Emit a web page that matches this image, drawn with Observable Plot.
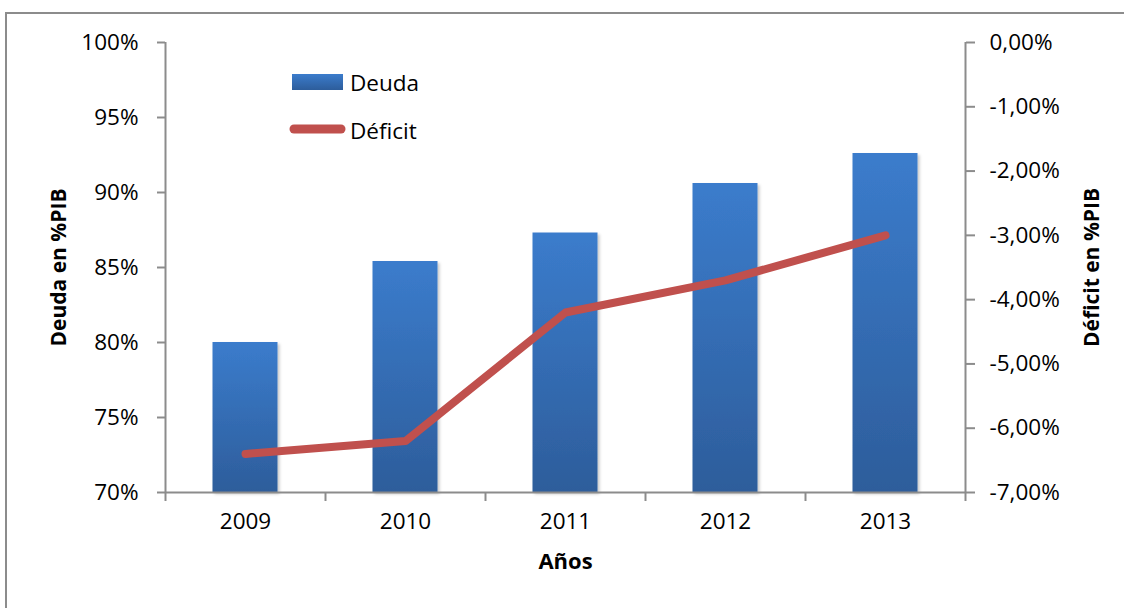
<!DOCTYPE html>
<html>
<head>
<meta charset="utf-8">
<script src="https://cdn.jsdelivr.net/npm/d3@7"></script>
<script src="https://cdn.jsdelivr.net/npm/@observablehq/plot@0.6"></script>
<style>
  html, body { margin: 0; padding: 0; background: #fff; }
  #wrap { position: relative; width: 1124px; height: 608px; overflow: hidden; font-family: "Open Sans", sans-serif; }
  #border { position: absolute; left: 5px; top: 12px; width: 1200px; height: 700px; border: 2px solid #8c8c8c; box-sizing: border-box; pointer-events: none; }
  #chart { position: absolute; left: 0; top: 0; }
  #legend { position: absolute; left: 285px; top: 62px; }
</style>
</head>
<body>
<div id="wrap">
  <div id="border"></div>
  <div id="chart"></div>
  <svg id="legend" width="200" height="90"></svg>
</div>
<script>
const years = ["2009", "2010", "2011", "2012", "2013"];
const deuda = [80.0, 85.4, 87.3, 90.6, 92.6];      // % PIB (left axis)
const deficit = [-6.4, -6.2, -4.2, -3.7, -3.0];    // % PIB (right axis)
const leftTicks = [70, 75, 80, 85, 90, 95, 100];
const rightTicks = [0, -1, -2, -3, -4, -5, -6, -7];
const seriesNames = ["Deuda", "Déficit"];
const xTitle = "Años";
const yLeftTitle = "Deuda en %PIB";
const yRightTitle = "Déficit en %PIB";

const toY = d => 100 + d * 30 / 7;      // map deficit to left scale
const fromY = v => (v - 100) * 7 / 30;

const barData = years.map((y, i) => ({year: y, value: deuda[i]}));
const lineData = years.map((y, i) => ({year: y, value: toY(deficit[i])}));

const fmtRight = v => {
  const d = Math.round(fromY(v) * 100) / 100;
  return (Math.abs(d) < 1e-9 ? 0 : d).toFixed(2).replace(".", ",") + "%";
};

const axisColor = "#8c8c8c";
const font = "\"Open Sans\", sans-serif";

const defs = () => {
  const g = d3.create("svg:defs");
  const lg = g.append("linearGradient").attr("id", "barGrad").attr("x1", 0).attr("y1", 0).attr("x2", 0).attr("y2", 1);
  lg.append("stop").attr("offset", "0%").attr("stop-color", "#3b7ccc");
  lg.append("stop").attr("offset", "100%").attr("stop-color", "#2d5d9b");
  const f = g.append("filter").attr("id", "shadow").attr("x", "-20%").attr("y", "-5%").attr("width", "140%").attr("height", "115%");
  f.append("feDropShadow").attr("dx", 2).attr("dy", 2).attr("stdDeviation", 1.8).attr("flood-color", "#000").attr("flood-opacity", 0.22);
  return g.node();
};

const chart = Plot.plot({
  width: 1124,
  height: 608,
  marginTop: 42,
  marginBottom: 116,
  marginLeft: 165,
  marginRight: 159,
  style: {fontFamily: font, fontSize: "22.5px", color: "black", background: "transparent"},
  x: {type: "band", domain: years, padding: 0},
  y: {domain: [70, 100]},
  marks: [
    defs,
    Plot.barY(barData, {x: "year", y1: 70, y2: "value", fill: "url(#barGrad)", insetLeft: 47.5, insetRight: 47.5}),
    Plot.ruleY([70], {stroke: axisColor, strokeWidth: 2}),
    Plot.ruleX([years[0]], {x: d => d, dx: -80, y1: 70, y2: 100, stroke: axisColor, strokeWidth: 2}),
    Plot.ruleX([years[4]], {x: d => d, dx: 80, y1: 70, y2: 100, stroke: axisColor, strokeWidth: 2}),
    Plot.ruleX(years, {x: d => d, dx: -80, y1: 70, y2: 70, insetBottom: -9, stroke: axisColor, strokeWidth: 2}),
    Plot.ruleX([years[4]], {x: d => d, dx: 80, y1: 70, y2: 70, insetBottom: -9, stroke: axisColor, strokeWidth: 2}),
    Plot.axisY({anchor: "left", ticks: leftTicks, tickFormat: d => d + "%", tickSize: 8, tickPadding: 19, stroke: axisColor, strokeWidth: 2, fill: "black", label: null}),
    Plot.axisY({anchor: "right", ticks: rightTicks.map(toY), tickFormat: fmtRight, tickSize: 9, tickPadding: 15, stroke: axisColor, strokeWidth: 2, fill: "black", label: null}),
    Plot.axisX({anchor: "bottom", tickSize: 0, tickPadding: 21, fill: "black", label: null}),
    Plot.line(lineData, {x: "year", y: "value", stroke: "#c0504d", strokeWidth: 8, strokeLinecap: "round", strokeLinejoin: "round"}),
    Plot.text([yLeftTitle], {frameAnchor: "left", textAnchor: "middle", dx: -106, rotate: -90, fontWeight: "bold", fontSize: 21, fill: "black"}),
    Plot.text([yRightTitle], {frameAnchor: "right", textAnchor: "middle", dx: 127, rotate: -90, fontWeight: "bold", fontSize: 21, fill: "black"}),
    Plot.text([xTitle], {frameAnchor: "bottom", dy: 76, fontWeight: "bold", fontSize: 22, fill: "black"})
  ]
});
chart.querySelectorAll("rect").forEach(r => { if (r.getAttribute("fill") === "url(#barGrad)" || (r.parentNode && r.parentNode.getAttribute("fill") === "url(#barGrad)")) r.setAttribute("filter", "url(#shadow)"); });
document.getElementById("chart").appendChild(chart);

// legend
const lg = d3.select("#legend");
lg.append("defs").append("linearGradient").attr("id", "legGrad").attr("x1", 0).attr("y1", 0).attr("x2", 0).attr("y2", 1)
  .call(s => { s.append("stop").attr("offset", "0%").attr("stop-color", "#3b7ccc"); s.append("stop").attr("offset", "100%").attr("stop-color", "#2d5d9b"); });
lg.append("rect").attr("x", 7).attr("y", 12).attr("width", 51).attr("height", 16).attr("fill", "url(#legGrad)");
lg.append("text").attr("x", 65).attr("y", 20).attr("dominant-baseline", "central").attr("font-family", font).attr("font-size", 22.5).text(seriesNames[0]);
lg.append("line").attr("x1", 9).attr("x2", 56).attr("y1", 67).attr("y2", 67).attr("stroke", "#c0504d").attr("stroke-width", 9).attr("stroke-linecap", "round");
lg.append("text").attr("x", 65).attr("y", 68).attr("dominant-baseline", "central").attr("font-family", font).attr("font-size", 22.5).text(seriesNames[1]);
</script>
</body>
</html>
